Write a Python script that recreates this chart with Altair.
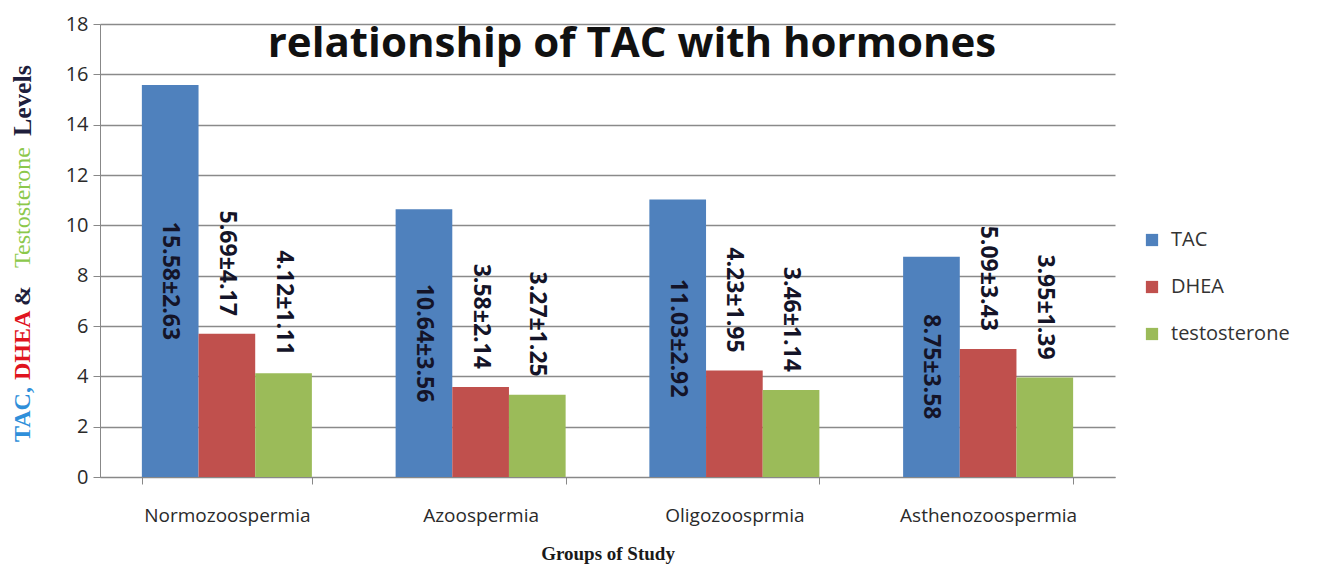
import altair as alt
import pandas as pd

groups = ["Normozoospermia", "Azoospermia", "Oligozoosprmia", "Asthenozoospermia"]
series = ["TAC", "DHEA", "testosterone"]
series_colors = ["#4F81BD", "#C0504D", "#9BBB59"]

tac_mean = [15.58, 10.64, 11.03, 8.75]
tac_sd = [2.63, 3.56, 2.92, 3.58]
dhea_mean = [5.69, 3.58, 4.23, 5.09]
dhea_sd = [4.17, 2.14, 1.95, 3.43]
testo_mean = [4.12, 3.27, 3.46, 3.95]
testo_sd = [1.11, 1.25, 1.14, 1.39]

y_ticks = [0, 2, 4, 6, 8, 10, 12, 14, 16, 18]

title_text = "relationship of TAC with hormones"
x_title = "Groups of Study"
ytitle_parts = ["TAC,", "DHEA", "&", "Testosterone", "Levels"]
ytitle_colors = ["#2F8FDA", "#E0141E", "#1E1E3C", "#8CC84B", "#1E1E3C"]
ytitle_bold = ["bold", "bold", "bold", "normal", "bold"]
ytitle_size = [24, 24, 24, 24, 26]
ytitle_start = [418, 356, 282, 244, 112]

rows = []
for s, means, sds in zip(series, [tac_mean, dhea_mean, testo_mean], [tac_sd, dhea_sd, testo_sd]):
    for g, m, sd in zip(groups, means, sds):
        rows.append({"group": g, "series": s, "value": m, "half": m / 2,
                     "label": f"{m:.2f}±{sd:.2f}"})
df = pd.DataFrame(rows)

SANS = "Open Sans"
SERIF = "Liberation Serif"

x_enc = alt.X("group:N", sort=groups,
              scale=alt.Scale(domain=groups, paddingInner=0.33, paddingOuter=0.165),
              axis=alt.Axis(title=x_title, labelAngle=0, labelFontSize=19, labelColor="#2a2a2a",
                            labelFont=SANS, tickBand="extent", tickSize=7, tickColor="#888888",
                            domainColor="#888888", labelPadding=22,
                            titleFont=SERIF, titleFontSize=19, titleFontWeight="bold",
                            titleColor="#1a1a1a", titlePadding=19))
xoff_enc = alt.XOffset("series:N", sort=series, scale=alt.Scale(domain=series, paddingInner=0, paddingOuter=0))
y_enc = alt.Y("value:Q", scale=alt.Scale(domain=[0, 18], nice=False),
              axis=alt.Axis(title=None, values=y_ticks, labelFontSize=20, labelFont=SANS,
                            labelColor="#2a2a2a", tickSize=7, tickColor="#888888",
                            domainColor="#888888", gridColor="#8a8a8a", gridWidth=1.3,
                            labelPadding=5))

bars = alt.Chart(df).mark_bar().encode(
    x=x_enc, xOffset=xoff_enc, y=y_enc,
    color=alt.Color("series:N", sort=series,
                    scale=alt.Scale(domain=series, range=series_colors),
                    legend=alt.Legend(title=None, orient="none", legendX=1042, legendY=206,
                                      symbolType="square", symbolSize=150, symbolStrokeWidth=0,
                                      labelFontSize=20, labelFont=SANS, labelColor="#333333",
                                      rowPadding=27, labelOffset=9, padding=0))
)

tac_labels = alt.Chart(df).transform_filter(alt.datum.series == "TAC").mark_text(
    angle=90, align="center", baseline="middle", fontSize=23, fontWeight="bold",
    font=SANS, color="#141428"
).encode(x=x_enc, xOffset=xoff_enc, y=alt.Y("half:Q"), text="label:N")

other_labels = alt.Chart(df).transform_filter(alt.datum.series != "TAC").mark_text(
    angle=90, align="right", baseline="middle", dx=-18, fontSize=23, fontWeight="bold",
    font=SANS, color="#141428"
).encode(x=x_enc, xOffset=xoff_enc, y=alt.Y("value:Q"), text="label:N")

title = alt.Chart(pd.DataFrame({"t": [title_text]})).mark_text(
    align="center", baseline="middle", fontSize=42, fontWeight="bold", font=SANS, color="#111111"
).encode(text="t:N", x=alt.value(532), y=alt.value(20))

ytitle_layers = []
for part, col, wt, size, start in zip(ytitle_parts, ytitle_colors, ytitle_bold, ytitle_size, ytitle_start):
    ytitle_layers.append(
        alt.Chart(pd.DataFrame({"t": [part]})).mark_text(
            angle=270, align="left", baseline="middle", fontSize=size, fontWeight=wt,
            font=SERIF, color=col
        ).encode(text="t:N", x=alt.value(-77), y=alt.value(start))
    )

chart = alt.layer(bars, tac_labels, other_labels, title, *ytitle_layers).properties(
    width=1015, height=453,
    padding={"left": 92, "top": 16, "right": 212, "bottom": 92},
    autosize=alt.AutoSizeParams(type="none"),
).configure_view(stroke=None)

chart.save("out.html", embed_options={"renderer": "svg", "actions": False})
